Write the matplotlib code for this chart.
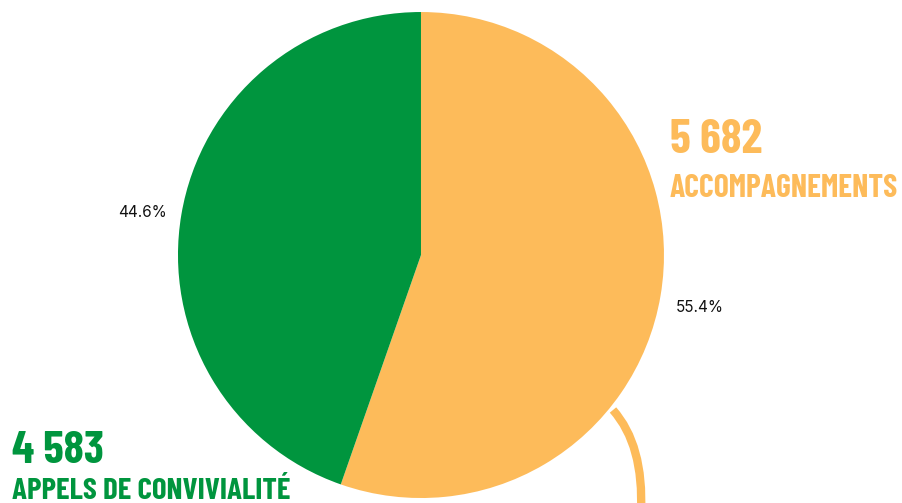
import matplotlib
matplotlib.use('Agg')
import matplotlib.pyplot as plt
from matplotlib.path import Path
from matplotlib.patches import PathPatch

# data
labels = ['ACCOMPAGNEMENTS', 'APPELS DE CONVIVIALITÉ']
counts = [5682, 4583]
colors = ['#FDBB5A', '#00953E']
count_text = ['5 682', '4 583']

W, H = 903, 503
fig = plt.figure(figsize=(W / 100, H / 100), dpi=100)
ax = fig.add_axes([0.1971, 0.0099, 0.5382, 0.9662])
wedges, texts, autotexts = ax.pie(counts, colors=colors, startangle=90, counterclock=False,
                                  autopct='%1.1f%%', pctdistance=1.16, radius=1,
                                  textprops={'fontsize': 11, 'color': '#111111', 'family': ['Inter', 'DejaVu Sans']})
# small nudges so the percentages sit where they do in the original
autotexts[0].set_position((1.146, -0.214))
autotexts[1].set_position((-1.144, 0.173))
ax.set_xlim(-1, 1)
ax.set_ylim(-1, 1)
ax.set_aspect('equal')
ax.axis('off')

cond = ['Barlow Condensed', 'DejaVu Sans']
renderer = fig.canvas.get_renderer()


def fit_text(x_px, base_px, s, color, width_px, size0):
    t = fig.text(x_px / W, 1 - base_px / H, s, color=color, fontsize=size0,
                 fontweight='bold', family=cond, ha='left', va='baseline')
    w = t.get_window_extent(renderer).width
    t.set_fontsize(size0 * width_px / w)
    return t


fit_text(670, 153, count_text[0], colors[0], 92, 36)
fit_text(670, 197, labels[0], colors[0], 228, 20)
fit_text(12, 463, count_text[1], colors[1], 92, 36)
fit_text(12, 499, labels[1], colors[1], 278, 22)

# curved orange stroke at the bottom right
verts = [(613 / W, 1 - 410 / H), (644 / W, 1 - 445 / H), (641 / W, 1 - 512 / H)]
curve = PathPatch(Path(verts, [Path.MOVETO, Path.CURVE3, Path.CURVE3]),
                  transform=fig.transFigure, fill=False, ec=colors[0], lw=6,
                  capstyle='butt')
fig.add_artist(curve)

fig.savefig('out.png', dpi=100)
